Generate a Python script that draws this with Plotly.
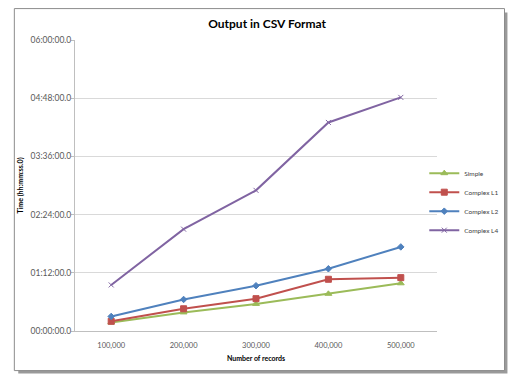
import plotly.graph_objects as go

categories = ["100,000", "200,000", "300,000", "400,000", "500,000"]
# times in minutes
simple = [10.5, 23, 33.5, 46, 59]
complex_l1 = [12, 27.5, 40, 64, 66]
complex_l2 = [18, 39, 56, 77, 104]
complex_l4 = [57, 126, 174, 258, 289]
ytick_vals = [0, 72, 144, 216, 288, 360]
ytick_text = ["00:00:00.0", "01:12:00.0", "02:24:00.0", "03:36:00.0", "04:48:00.0", "06:00:00.0"]

FONT = "Lato, 'Open Sans', sans-serif"

fig = go.Figure()
series = [
    ("Simple", simple, "#9bbb59", "triangle-up", 6),
    ("Complex L1", complex_l1, "#c0504d", "square", 6),
    ("Complex L2", complex_l2, "#4f81bd", "diamond", 5),
    ("Complex L4", complex_l4, "#8064a2", "x-thin", 5),
]
for name, vals, color, sym, size in series:
    fig.add_trace(go.Scatter(
        x=categories, y=vals, name=name, mode="lines+markers",
        line=dict(color=color, width=2),
        marker=dict(symbol=sym, size=size, color=color, line=dict(color=color, width=1)),
    ))

OFF = 8  # page body margin
W, H = 518 - OFF, 380 - OFF
# plot area in reference page coordinates
PL, PR, PT, PB = 67, 437, 39.5, 331.3
L, T = PL - OFF, PT - OFF
R, B = W - (PR - OFF), H - (PB - OFF)
pw, ph = PR - PL, PB - PT

def px(x):
    return (x - PL) / pw

def py(y):
    return (PB - y) / ph

shapes = [
    dict(type="rect", xref="paper", yref="paper", x0=px(9), x1=px(509), y0=py(12), y1=py(374),
         fillcolor="#9a9a9a", line=dict(width=0), layer="below"),
    dict(type="rect", xref="paper", yref="paper", x0=px(5), x1=px(506), y0=py(8), y1=py(371),
         fillcolor="white", line=dict(color="#8c8c8c", width=1), layer="below"),
]

fig.update_layout(
    width=W, height=H,
    margin=dict(l=L, r=R, t=T, b=B, pad=0),
    paper_bgcolor="white", plot_bgcolor="rgba(0,0,0,0)",
    shapes=shapes,
    title=dict(text="<b>Output in CSV Format</b>", x=px(255), xanchor="center",
               y=1 - (23.5 - OFF) / H, yanchor="middle",
               font=dict(family=FONT, size=12, color="#000000")),
    font=dict(family=FONT, size=7, color="#595959"),
    xaxis=dict(type="category", range=[-0.5, 4.5], showgrid=False,
               showline=True, linecolor="#bfbfbf", linewidth=1,
               ticks="", ticklabelstandoff=7, tickfont=dict(size=7.5, color="#595959"),
               title=dict(text="<b>Number of records</b>", font=dict(size=7, color="#000000"), standoff=7),
               zeroline=False),
    yaxis=dict(range=[0, 360], tickvals=ytick_vals, ticktext=ytick_text,
               showgrid=True, gridcolor="#d9d9d9", gridwidth=1,
               showline=True, linecolor="#bfbfbf", linewidth=1,
               ticks="outside", ticklen=3, tickcolor="#bfbfbf", ticklabelstandoff=-2,
               tickfont=dict(size=8.5, color="#595959"),
               title=dict(text="<b>Time (hh:mm:ss.0)</b>", font=dict(size=7, color="#000000"), standoff=6),
               zeroline=False),
    legend=dict(x=px(424), y=py(158.5), xanchor="left", yanchor="top",
                font=dict(size=6.5, color="#404040"), itemwidth=30,
                bgcolor="rgba(0,0,0,0)", tracegroupgap=0),
    showlegend=True,
)

fig.write_html("out.html")
